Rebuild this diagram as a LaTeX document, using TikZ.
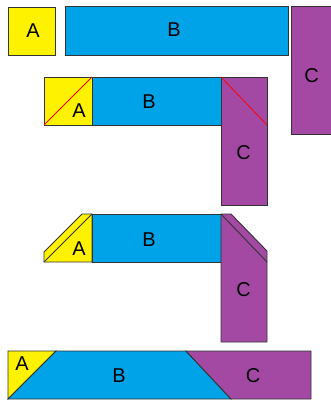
\documentclass[tikz,border=0pt]{standalone}
\usepackage{fontspec}
\setmainfont{Liberation Sans}
\definecolor{ya}{HTML}{FFF200}
\definecolor{bb}{HTML}{00A2E8}
\definecolor{pc}{HTML}{A349A4}
\definecolor{edge}{HTML}{333333}
\tikzset{
  shp/.style={draw=edge, line width=0.9pt, line join=miter},
  afill/.style={shp, fill=ya},
  bfill/.style={shp, fill=bb},
  cfill/.style={shp, fill=pc},
  lbl/.style={font=\fontsize{20}{20}\selectfont, inner sep=0pt, text=black},
  redl/.style={draw=red, line width=0.8pt},
  dline/.style={draw=edge, line width=0.9pt}
}
\begin{document}
\begin{tikzpicture}[x=1pt,y=-1pt]
\useasboundingbox (0,0) rectangle (331,404);
% Row 1
\draw[afill] (8,7) rectangle (55,55);
\draw[bfill] (65,6) rectangle (288,55);
\fill[pc] (291,6) rectangle (331,134);
\draw[shp] (332,6) -- (291,6) -- (291,134) -- (332,134);
\node[lbl] (a1) at (33,31) {A};
\node[lbl] (b1) at (174,30) {B};
\node[lbl] (c1) at (311.5,76) {C};
% Row 2
\draw[afill] (44,77) rectangle (92,125);
\draw[bfill] (92,77) rectangle (221,125);
\draw[cfill] (221,77) rectangle (267,205);
\draw[redl] (44,125) -- (92,77);
\draw[redl] (221,77) -- (267,125);
\node[lbl] (a2) at (79,111) {A};
\node[lbl] (b2) at (149,102) {B};
\node[lbl] (c2) at (243.5,153) {C};
% Row 3
\draw[afill] (44,262) -- (44,252) -- (82,214) -- (92,214) -- (92,262) -- cycle;
\draw[dline] (44,262) -- (92,214);
\draw[bfill] (92,214) rectangle (221,262);
\draw[cfill] (221,214) -- (231,214) -- (267,251) -- (267,342) -- (221,342) -- cycle;
\draw[dline] (221,214) -- (267,262);
\node[lbl] (a3) at (79,249) {A};
\node[lbl] (b3) at (149,240) {B};
\node[lbl] (c3) at (243.5,290) {C};
% Row 4
\draw[afill] (8,351) -- (56,351) -- (8,399) -- cycle;
\draw[bfill] (56,351) -- (186,351) -- (231,399) -- (8,399) -- cycle;
\draw[cfill] (186,351) -- (311,351) -- (311,399) -- (231,399) -- cycle;
\node[lbl] (a4) at (22,364) {A};
\node[lbl] (b4) at (119,376) {B};
\node[lbl] (c4) at (253,376) {C};
\end{tikzpicture}
\end{document}
